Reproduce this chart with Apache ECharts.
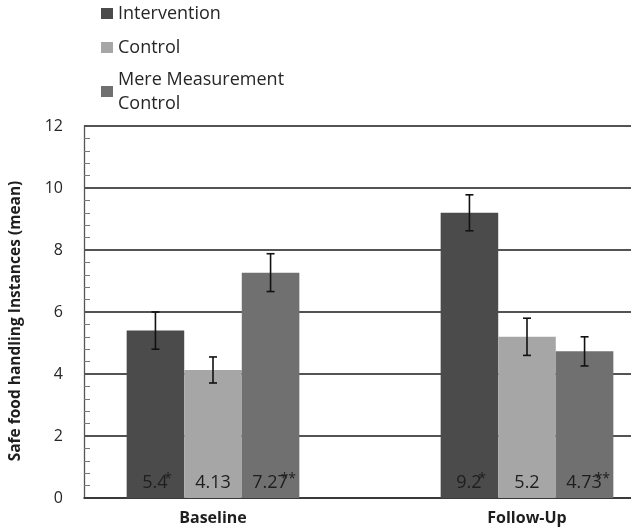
<!DOCTYPE html>
<html><head><meta charset="utf-8">
<script src="https://cdn.jsdelivr.net/npm/echarts@6/dist/echarts.min.js"></script>
<style>html,body{margin:0;padding:0;background:#fff}#c{width:631px;height:531px}</style>
</head><body><div id="c"></div>
<script>
const categories = ['Baseline', 'Follow-Up'];
const seriesNames = ['Intervention', 'Control', 'Mere Measurement Control'];
const intervention = [5.4, 9.2];
const control = [4.13, 5.2];
const mereMeasurement = [7.27, 4.73];
const interventionErr = [0.6, 0.58];
const controlErr = [0.42, 0.6];
const mereMeasurementErr = [0.61, 0.47];
const interventionMarks = ['*', '*'];
const controlMarks = ['', ''];
const mereMeasurementMarks = ['**', '**'];
const yMin = 0, yMax = 12, yStep = 2;

const FONT = 'Open Sans';
const CAT_GAP = 0.45;
const colors = ['#4b4b4b', '#a6a6a6', '#707070'];
const values = [intervention, control, mereMeasurement];
const errs = [interventionErr, controlErr, mereMeasurementErr];
const marks = [interventionMarks, controlMarks, mereMeasurementMarks];

const barSeries = values.map((vals, s) => ({
  name: seriesNames[s],
  type: 'bar',
  xAxisIndex: 0, yAxisIndex: 0,
  data: vals,
  barGap: '0%',
  barCategoryGap: (CAT_GAP * 100) + '%',
  itemStyle: { color: colors[s] },
  label: {
    show: true,
    position: 'insideBottom',
    distance: 4,
    formatter: p => {
      const m = marks[s][p.dataIndex];
      return '{v|' + p.value + '}' + (m ? '{s|' + m + '}' : '');
    },
    rich: {
      v: { fontFamily: FONT, fontSize: 18, lineHeight: 22, color: '#1e1e1e' },
      s: { fontFamily: FONT, fontSize: 14, lineHeight: 3, verticalAlign: 'top', color: '#1e1e1e', width: 1 }
    }
  }
}));

const errData = [];
values.forEach((vals, s) => vals.forEach((v, c) => {
  errData.push([c, v - errs[s][c], v + errs[s][c], s]);
}));

function renderError(params, api) {
  const c = api.value(0), lo = api.value(1), hi = api.value(2), s = api.value(3);
  const catW = api.size([1, 0])[0];
  const bw = catW * (1 - CAT_GAP) / 3;
  const pLo = api.coord([c, lo]), pHi = api.coord([c, hi]);
  const x = pLo[0] + (s - 1) * bw;
  const cap = 4;
  const st = { stroke: '#111', lineWidth: 1.6 };
  return { type: 'group', children: [
    { type: 'line', shape: { x1: x, y1: pLo[1], x2: x, y2: pHi[1] }, style: st },
    { type: 'line', shape: { x1: x - cap, y1: pHi[1], x2: x + cap, y2: pHi[1] }, style: st },
    { type: 'line', shape: { x1: x - cap, y1: pLo[1], x2: x + cap, y2: pLo[1] }, style: st }
  ]};
}

const chart = echarts.init(document.getElementById('c'), null, { renderer: 'canvas' });
chart.setOption({
  animation: false,
  backgroundColor: '#fff',
  textStyle: { fontFamily: FONT },
  legend: {
    orient: 'vertical',
    left: 101, top: 2.5, padding: 0,
    itemWidth: 12, itemHeight: 11, itemGap: 12,
    icon: 'rect',
    selectedMode: false,
    textStyle: { fontFamily: FONT, fontSize: 18, lineHeight: 22, color: '#262626' },
    formatter: n => n === 'Mere Measurement Control' ? 'Mere Measurement\nControl' : n,
    data: [
      { name: seriesNames[0] },
      { name: seriesNames[1] },
      { name: seriesNames[2], textStyle: { lineHeight: 24, padding: [2, 0, -26, 0] } }
    ]
  },
  grid: [
    { left: 56, width: 628, top: 126, bottom: 33, outerBoundsMode: 'none' },
    { left: 84, right: 0, top: 126, bottom: 33, outerBoundsMode: 'none' }
  ],
  xAxis: [
    { type: 'category', gridIndex: 0, data: categories,
      axisLine: { show: false }, axisTick: { show: false },
      axisLabel: { fontFamily: FONT, fontSize: 16, fontWeight: 'bold', color: '#1e1e1e', margin: 12 } },
    { type: 'value', gridIndex: 1, min: 0, max: 1,
      axisLine: { show: true, lineStyle: { color: '#333', width: 1.5 } },
      axisTick: { show: false }, axisLabel: { show: false }, splitLine: { show: false } }
  ],
  yAxis: [
    { type: 'value', gridIndex: 0, min: yMin, max: yMax, interval: yStep, show: false },
    { type: 'value', gridIndex: 1, min: yMin, max: yMax, interval: yStep,
      name: 'Safe food handling Instances (mean)', nameLocation: 'middle', nameGap: 60,
      nameTextStyle: { fontFamily: FONT, fontSize: 15.5, fontWeight: 'bold', color: '#1e1e1e', padding: [0, 18, 0, 0] },
      axisLine: { show: true, lineStyle: { color: '#555', width: 1.3 } },
      axisTick: { show: false },
      minorTick: { show: true, splitNumber: 5, length: -6, lineStyle: { color: '#777', width: 1 } },
      axisLabel: { fontFamily: FONT, fontSize: 16, color: '#262626', margin: 21 },
      splitLine: { show: true, lineStyle: { color: '#1a1a1a', width: 1.5 } } }
  ],
  series: barSeries.concat([{
    type: 'custom', name: 'err', xAxisIndex: 0, yAxisIndex: 0,
    renderItem: renderError, data: errData, encode: { x: 0, y: [1, 2] }, z: 5
  }])
});
</script></body></html>
